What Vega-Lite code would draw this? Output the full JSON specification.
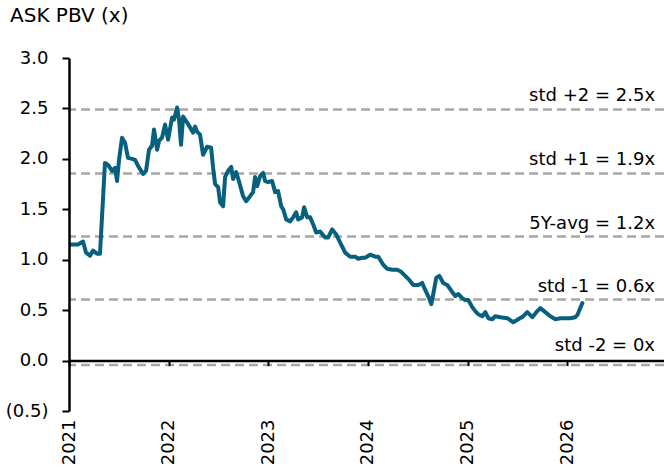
{
  "$schema": "https://vega.github.io/schema/vega-lite/v6.json",
  "width": 595,
  "height": 353,
  "autosize": {"type": "none"},
  "padding": {"left": 69, "top": 58, "right": 0, "bottom": 63},
  "background": "white",
  "config": {"view": {"stroke": null}, "font": "DejaVu Sans"},
  "title": {"text": "ASK PBV (x)", "anchor": "start", "frame": "group", "dx": -59, "offset": 23, "fontSize": 20, "fontWeight": "normal", "font": "DejaVu Sans", "color": "black"},
  "datasets": {
    "pbv": [
      {"t": 2021.02, "v": 1.15}, {"t": 2021.09, "v": 1.15}, {"t": 2021.141, "v": 1.18}, {"t": 2021.171, "v": 1.07},
      {"t": 2021.211, "v": 1.04}, {"t": 2021.241, "v": 1.09}, {"t": 2021.281, "v": 1.06}, {"t": 2021.311, "v": 1.06},
      {"t": 2021.341, "v": 1.6}, {"t": 2021.361, "v": 1.96}, {"t": 2021.392, "v": 1.94}, {"t": 2021.432, "v": 1.88},
      {"t": 2021.462, "v": 1.91}, {"t": 2021.482, "v": 1.78}, {"t": 2021.502, "v": 1.99}, {"t": 2021.532, "v": 2.21},
      {"t": 2021.562, "v": 2.16}, {"t": 2021.592, "v": 2.01}, {"t": 2021.633, "v": 2.0}, {"t": 2021.663, "v": 1.99},
      {"t": 2021.693, "v": 1.93}, {"t": 2021.743, "v": 1.85}, {"t": 2021.773, "v": 1.88}, {"t": 2021.803, "v": 2.09},
      {"t": 2021.833, "v": 2.13}, {"t": 2021.853, "v": 2.29}, {"t": 2021.884, "v": 2.09}, {"t": 2021.904, "v": 2.18},
      {"t": 2021.934, "v": 2.21}, {"t": 2021.964, "v": 2.34}, {"t": 2021.994, "v": 2.19}, {"t": 2022.034, "v": 2.41},
      {"t": 2022.054, "v": 2.39}, {"t": 2022.084, "v": 2.51}, {"t": 2022.104, "v": 2.39}, {"t": 2022.124, "v": 2.14},
      {"t": 2022.145, "v": 2.42}, {"t": 2022.185, "v": 2.36}, {"t": 2022.215, "v": 2.31}, {"t": 2022.245, "v": 2.26},
      {"t": 2022.265, "v": 2.32}, {"t": 2022.285, "v": 2.27}, {"t": 2022.315, "v": 2.24}, {"t": 2022.345, "v": 2.04},
      {"t": 2022.386, "v": 2.12}, {"t": 2022.426, "v": 2.11}, {"t": 2022.446, "v": 1.91}, {"t": 2022.466, "v": 1.75},
      {"t": 2022.496, "v": 1.72}, {"t": 2022.516, "v": 1.57}, {"t": 2022.546, "v": 1.53}, {"t": 2022.566, "v": 1.82},
      {"t": 2022.596, "v": 1.88}, {"t": 2022.627, "v": 1.92}, {"t": 2022.647, "v": 1.8}, {"t": 2022.677, "v": 1.87},
      {"t": 2022.707, "v": 1.77}, {"t": 2022.747, "v": 1.63}, {"t": 2022.777, "v": 1.58}, {"t": 2022.817, "v": 1.63},
      {"t": 2022.847, "v": 1.67}, {"t": 2022.867, "v": 1.82}, {"t": 2022.888, "v": 1.73}, {"t": 2022.918, "v": 1.83},
      {"t": 2022.948, "v": 1.86}, {"t": 2022.968, "v": 1.78}, {"t": 2022.998, "v": 1.77}, {"t": 2023.038, "v": 1.78},
      {"t": 2023.068, "v": 1.67}, {"t": 2023.098, "v": 1.68}, {"t": 2023.129, "v": 1.53}, {"t": 2023.149, "v": 1.5},
      {"t": 2023.179, "v": 1.4}, {"t": 2023.219, "v": 1.38}, {"t": 2023.249, "v": 1.42}, {"t": 2023.279, "v": 1.47},
      {"t": 2023.299, "v": 1.4}, {"t": 2023.339, "v": 1.42}, {"t": 2023.359, "v": 1.52}, {"t": 2023.39, "v": 1.42},
      {"t": 2023.42, "v": 1.42}, {"t": 2023.45, "v": 1.35}, {"t": 2023.48, "v": 1.27}, {"t": 2023.52, "v": 1.28},
      {"t": 2023.57, "v": 1.22}, {"t": 2023.6, "v": 1.22}, {"t": 2023.641, "v": 1.3}, {"t": 2023.681, "v": 1.25},
      {"t": 2023.721, "v": 1.17}, {"t": 2023.771, "v": 1.07}, {"t": 2023.821, "v": 1.03}, {"t": 2023.871, "v": 1.03},
      {"t": 2023.902, "v": 1.01}, {"t": 2023.942, "v": 1.02}, {"t": 2023.972, "v": 1.02}, {"t": 2024.022, "v": 1.05},
      {"t": 2024.072, "v": 1.03}, {"t": 2024.102, "v": 1.03}, {"t": 2024.153, "v": 0.95}, {"t": 2024.193, "v": 0.91},
      {"t": 2024.243, "v": 0.9}, {"t": 2024.293, "v": 0.9}, {"t": 2024.333, "v": 0.88}, {"t": 2024.373, "v": 0.84},
      {"t": 2024.414, "v": 0.8}, {"t": 2024.454, "v": 0.75}, {"t": 2024.504, "v": 0.75}, {"t": 2024.544, "v": 0.77},
      {"t": 2024.574, "v": 0.7}, {"t": 2024.604, "v": 0.64}, {"t": 2024.635, "v": 0.56}, {"t": 2024.655, "v": 0.66},
      {"t": 2024.685, "v": 0.82}, {"t": 2024.715, "v": 0.84}, {"t": 2024.755, "v": 0.77}, {"t": 2024.795, "v": 0.75},
      {"t": 2024.845, "v": 0.68}, {"t": 2024.876, "v": 0.64}, {"t": 2024.906, "v": 0.66}, {"t": 2024.946, "v": 0.62},
      {"t": 2024.976, "v": 0.6}, {"t": 2025.006, "v": 0.6}, {"t": 2025.046, "v": 0.53}, {"t": 2025.076, "v": 0.49},
      {"t": 2025.106, "v": 0.46}, {"t": 2025.147, "v": 0.44}, {"t": 2025.177, "v": 0.48}, {"t": 2025.207, "v": 0.42},
      {"t": 2025.247, "v": 0.41}, {"t": 2025.277, "v": 0.44}, {"t": 2025.327, "v": 0.43}, {"t": 2025.398, "v": 0.42},
      {"t": 2025.458, "v": 0.38}, {"t": 2025.508, "v": 0.41}, {"t": 2025.558, "v": 0.44}, {"t": 2025.598, "v": 0.48},
      {"t": 2025.649, "v": 0.43}, {"t": 2025.689, "v": 0.48}, {"t": 2025.729, "v": 0.52}, {"t": 2025.779, "v": 0.48},
      {"t": 2025.829, "v": 0.44}, {"t": 2025.88, "v": 0.41}, {"t": 2025.93, "v": 0.42}, {"t": 2025.98, "v": 0.42},
      {"t": 2026.03, "v": 0.42}, {"t": 2026.08, "v": 0.43}, {"t": 2026.1, "v": 0.45}, {"t": 2026.151, "v": 0.57}
    ],
    "bands": [
      {"label": "std +2 = 2.5x", "level": 2.49},
      {"label": "std +1 = 1.9x", "level": 1.855},
      {"label": "5Y-avg = 1.2x", "level": 1.23},
      {"label": "std -1 = 0.6x", "level": 0.605},
      {"label": "std -2 = 0x", "level": -0.045}
    ]
  },
  "layer": [
    {
      "data": {"name": "bands"},
      "mark": {"type": "rule", "color": "#A6A6A6", "strokeWidth": 2.5, "strokeDash": [9, 5]},
      "encoding": {
        "y": {"field": "level", "type": "quantitative", "scale": {"domain": [-0.5, 3.0], "nice": false, "zero": false},
          "axis": {"values": [-0.5, 0, 0.5, 1, 1.5, 2, 2.5, 3], "labelExpr": "datum.value < 0 ? '(' + format(-datum.value, '.1f') + ')' : format(datum.value, '.1f')",
            "title": null, "grid": false, "domainColor": "black", "domainWidth": 2.5, "tickColor": "black", "tickWidth": 2, "tickSize": 7,
            "labelFontSize": 18, "labelColor": "black", "labelPadding": 14, "labelFont": "DejaVu Sans", "zindex": 1}}
      }
    },
    {
      "data": {"name": "pbv"},
      "mark": {"type": "line", "color": "#07607E", "strokeWidth": 4, "strokeJoin": "round", "strokeCap": "round"},
      "encoding": {
        "x": {"field": "t", "type": "quantitative", "scale": {"domain": [2021, 2026.97], "nice": false, "zero": false},
          "axis": {"values": [2021, 2022, 2023, 2024, 2025, 2026], "format": "d", "title": null, "grid": false, "domain": false, "ticks": false,
            "labelAngle": -90, "labelFontSize": 18, "labelColor": "black", "labelPadding": 8, "labelFont": "DejaVu Sans", "labelFlush": false, "labelOverlap": false}},
        "y": {"field": "v", "type": "quantitative"}
      }
    },
    {
      "data": {"name": "bands"},
      "transform": [{"filter": "datum.level > 0"}],
      "mark": {"type": "text", "align": "right", "baseline": "alphabetic", "dy": -8, "fontSize": 18, "font": "DejaVu Sans", "color": "black"},
      "encoding": {
        "x": {"datum": 2026.88, "type": "quantitative", "axis": null},
        "y": {"field": "level", "type": "quantitative"},
        "text": {"field": "label"}
      }
    },
    {
      "data": {"name": "bands"},
      "transform": [{"filter": "datum.level < 0"}],
      "mark": {"type": "text", "align": "right", "baseline": "alphabetic", "dy": -14, "fontSize": 18, "font": "DejaVu Sans", "color": "black"},
      "encoding": {
        "x": {"datum": 2026.88, "type": "quantitative",
          "axis": {"values": [2021, 2022, 2023, 2024, 2025, 2026], "orient": "bottom", "offset": -50.43, "labels": false, "title": null, "grid": false,
            "domainColor": "black", "domainWidth": 2.5, "tickColor": "black", "tickWidth": 2, "tickSize": 5, "zindex": 1}},
        "y": {"field": "level", "type": "quantitative"},
        "text": {"field": "label"}
      }
    }
  ],
  "resolve": {"axis": {"x": "independent"}}
}
